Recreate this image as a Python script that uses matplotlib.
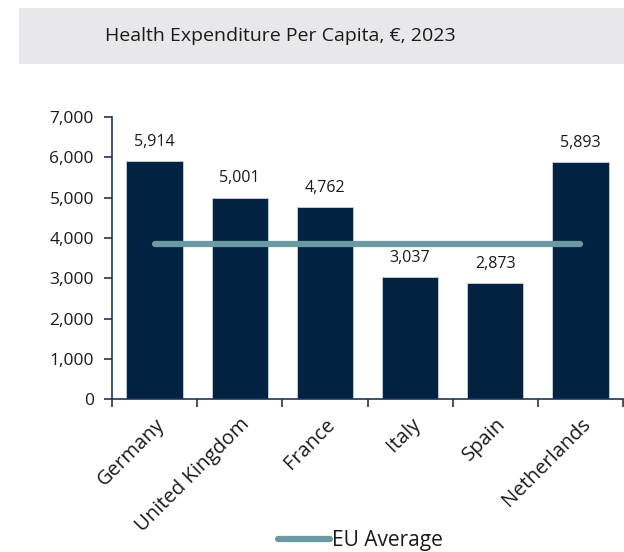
import matplotlib
matplotlib.use("Agg")
import matplotlib.pyplot as plt
from matplotlib.patches import Rectangle

countries = ["Germany", "United Kingdom", "France", "Italy", "Spain", "Netherlands"]
spend = [5914, 5001, 4762, 3037, 2873, 5893]
eu_average = 3860
yticks = [0, 1000, 2000, 3000, 4000, 5000, 6000, 7000]
title = "Health Expenditure Per Capita, €, 2023"

navy = "#012241"
spine = "#1d3556"
teal = "#6a9ba2"
text_col = "#1a1a1a"

plt.rcParams["font.family"] = ["Open Sans", "DejaVu Sans"]

fig = plt.figure(figsize=(6.24, 5.52), dpi=100)
fig.patch.set_facecolor("white")

# grey title band
fig.patches.append(Rectangle((0.030, 0.884), 0.98, 0.1015, transform=fig.transFigure,
                             facecolor="#e8e8ea", edgecolor="none", zorder=0))
fig.text(0.449, 0.934, title, ha="center", va="center", fontsize=14, color=text_col)

ax = fig.add_axes([0.1795, 0.277, 0.819, 0.511])
x = list(range(len(countries)))
bars = ax.bar(x, spend, width=0.66, color=navy, edgecolor="#c8d2dc", linewidth=0.6, zorder=2)
for xi, v in zip(x, spend):
    ax.annotate(f"{v:,}", (xi, v), xytext=(0, 8), textcoords="offset points",
                ha="center", va="bottom", fontsize=11.5, color=text_col)

ax.plot([x[0], x[-1]], [eu_average, eu_average], color=teal, linewidth=4.5,
        solid_capstyle="round", zorder=3, label="EU Average")

ax.set_xlim(-0.5, len(countries) - 0.5)
ax.set_ylim(0, 7000)
ax.set_yticks(yticks)
ax.set_yticklabels([f"{t:,}" for t in yticks], fontsize=12.5, color=text_col)

ax.set_xticks([i - 0.5 for i in range(len(countries) + 1)])
ax.set_xticklabels([])
ax.set_xticks(x, minor=True)
ax.set_xticklabels(countries, minor=True, rotation=45, ha="right", va="top",
                   rotation_mode="anchor", fontsize=14.5, color=text_col)
ax.tick_params(axis="x", which="minor", length=0, pad=11)
ax.tick_params(axis="x", which="major", length=6, width=1.2, color=spine, direction="out")
ax.tick_params(axis="y", length=6, width=1.2, color=spine, pad=7)

for s in ["top", "right"]:
    ax.spines[s].set_visible(False)
for s in ["left", "bottom"]:
    ax.spines[s].set_color(spine)
    ax.spines[s].set_linewidth(1.2)

fig.legend(loc="center", bbox_to_anchor=(0.577, 0.02), frameon=False, fontsize=15,
           handlelength=2.5, handletextpad=0.1, labelcolor=text_col, borderpad=0)

fig.savefig("out.png", dpi=100)
